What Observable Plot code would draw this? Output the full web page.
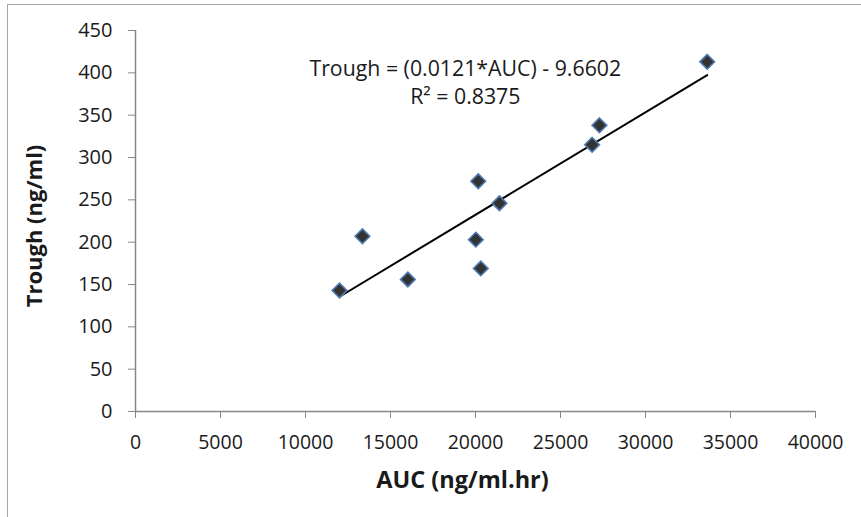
<!DOCTYPE html>
<html>
<head>
<meta charset="utf-8">
<script src="https://cdn.jsdelivr.net/npm/d3@7"></script>
<script src="https://cdn.jsdelivr.net/npm/@observablehq/plot@0.6"></script>
<style>
  html, body { margin: 0; padding: 0; background: #fff; overflow: hidden; }
  #wrap { position: relative; width: 861px; height: 517px; overflow: hidden; }
  #frame { position: absolute; left: 7px; top: 4px; width: 900px; height: 600px; border: 1px solid #a6a6a6; box-sizing: border-box; }
  #chart { position: absolute; left: 0; top: 0; }
</style>
</head>
<body>
<div id="wrap"><div id="frame"></div><div id="chart"></div></div>
<script>
// Data
const auc    = [12000, 13350, 16020, 20020, 20160, 20310, 21410, 26860, 27290, 33630];
const trough = [143,   207,   156,   203,   272,   169,   246,   315,   338,   413];
const xTicks = [0, 5000, 10000, 15000, 20000, 25000, 30000, 35000, 40000];
const yTicks = [0, 50, 100, 150, 200, 250, 300, 350, 400, 450];
const slope = 0.0121;
const intercept = -9.6602;
const equationLines = ["Trough = (0.0121*AUC) - 9.6602", "R² = 0.8375"];
const equationX = [19400, 19400];
const equationY = [404, 371];
const xLabel = "AUC (ng/ml.hr)";
const yLabel = "Trough (ng/ml)";

const points = auc.map((x, i) => ({x, y: trough[i]}));
const xMin = d3.min(auc), xMax = d3.max(auc);
const trend = [xMin, xMax].map(x => ({x, y: slope * x + intercept}));
const notes = equationLines.map((t, i) => ({t, x: equationX[i], y: equationY[i]}));

const axisGray = "#868686";
const ink = "#1a1a1a";

const chart = Plot.plot({
  width: 861,
  height: 517,
  marginLeft: 135,
  marginRight: 46,
  marginTop: 30,
  marginBottom: 106,
  style: { fontFamily: "'Open Sans', sans-serif", fontSize: "19px", color: ink, background: "transparent" },
  x: { domain: [0, 40000] },
  y: { domain: [0, 450] },
  marks: [
    Plot.axisX({ ticks: xTicks, tickSize: 7, tickPadding: 17, stroke: axisGray, fill: ink, tickFormat: d => String(d), label: null, fontSize: 19.5 }),
    Plot.axisY({ ticks: yTicks, tickSize: 7, tickPadding: 16, stroke: axisGray, fill: ink, tickFormat: d => String(d), label: null, fontSize: 20 }),
    Plot.ruleY([0], { stroke: axisGray, strokeWidth: 1.5 }),
    Plot.ruleX([0], { stroke: axisGray, strokeWidth: 1.5 }),
    Plot.line(trend, { x: "x", y: "y", stroke: "#000", strokeWidth: 2 }),
    Plot.dot(points, { x: "x", y: "y", symbol: "diamond2", r: 6.6, fill: "#333333", stroke: "#4f79b0", strokeWidth: 1.6 }),
    Plot.text(notes, { x: "x", y: "y", text: "t", fontSize: 21.3, fill: ink }),
    Plot.text([xLabel], { frameAnchor: "bottom", textAnchor: "middle", lineAnchor: "middle", dx: -13, dy: 69, fontWeight: "bold", fontSize: 23.5, fill: ink }),
    Plot.text([yLabel], { frameAnchor: "left", textAnchor: "middle", lineAnchor: "middle", rotate: -90, dx: -101, dy: 5, fontWeight: "bold", fontSize: 22, fill: ink })
  ]
});
document.getElementById("chart").appendChild(chart);
</script>
</body>
</html>
